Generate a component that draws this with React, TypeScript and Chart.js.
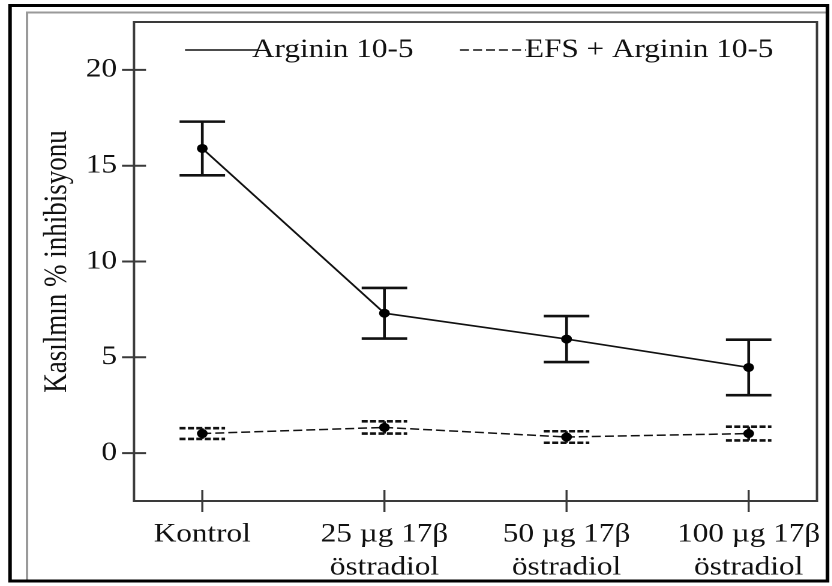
import React, { useEffect, useRef } from 'react';
import { Chart, registerables } from 'chart.js';

Chart.register(...registerables);

// ---- data ----
const categories: string[][] = [
  ['Kontrol'],
  ['25 µg 17β', 'östradiol'],
  ['50 µg 17β', 'östradiol'],
  ['100 µg 17β', 'östradiol'],
];
const xPositions = [0, 1, 2, 3];
const yTickValues = [0, 5, 10, 15, 20];
const seriesLabels = ['Arginin 10-5', 'EFS + Arginin 10-5'];
const argininMean = [15.9, 7.3, 5.95, 4.47];
const argininErr = [1.4, 1.32, 1.2, 1.45];
const efsMean = [1.02, 1.34, 0.84, 1.02];
const efsErr = [0.28, 0.32, 0.3, 0.36];
const yTitle = 'Kasılmın % inhibisyonu';

// ---- layout (reference pixels) ----
const SX = 1.2; // the reference is stretched horizontally
const PAGE_W = 832;
const PAGE_H = 586;
const CW = PAGE_W / SX;
const PLOT = { left: 134, right: 817, top: 22, bottom: 501 };
const X = (rx: number) => rx / SX;
const FONT = "'Liberation Serif', 'Times New Roman', serif";
const CAP = 0.125;
const INK = '#111';
const AXIS = '#3a3a3a';

const decor = {
  id: 'decor',
  beforeDraw(chart: any) {
    const ctx = chart.ctx;
    ctx.save();
    ctx.fillStyle = '#fff';
    ctx.fillRect(0, 0, chart.width, chart.height);
    ctx.strokeStyle = '#9a9a9a';
    ctx.lineWidth = 2;
    ctx.beginPath();
    ctx.moveTo(X(27), 580);
    ctx.lineTo(X(27), 12.5);
    ctx.lineTo(X(827), 12.5);
    ctx.stroke();
    ctx.strokeStyle = '#000';
    ctx.lineWidth = 3;
    ctx.strokeRect(X(10), 5.5, X(827.5) - X(10), 581 - 5.5);
    ctx.restore();
  },
  beforeDatasetsDraw(chart: any) {
    const { ctx, scales } = chart;
    const xs = scales.x;
    const ys = scales.y;
    const drawErr = (means: number[], errs: number[], dashed: boolean) => {
      means.forEach((m, i) => {
        const x = xs.getPixelForValue(xPositions[i]);
        const hw = xs.getPixelForValue(xPositions[i] + CAP) - x;
        const yt = ys.getPixelForValue(m + errs[i]);
        const yb = ys.getPixelForValue(m - errs[i]);
        ctx.save();
        ctx.strokeStyle = INK;
        ctx.setLineDash(dashed ? [5, 2] : []);
        ctx.lineWidth = 2.6;
        ctx.beginPath();
        ctx.moveTo(x - hw, yt);
        ctx.lineTo(x + hw, yt);
        ctx.moveTo(x - hw, yb);
        ctx.lineTo(x + hw, yb);
        ctx.stroke();
        ctx.setLineDash([]);
        ctx.lineWidth = 2.3;
        ctx.beginPath();
        ctx.moveTo(x, yt);
        ctx.lineTo(x, yb);
        ctx.stroke();
        ctx.restore();
      });
    };
    drawErr(argininMean, argininErr, false);
    drawErr(efsMean, efsErr, true);
  },
  afterDraw(chart: any) {
    const { ctx, chartArea: a, scales } = chart;
    const xs = scales.x;
    const ys = scales.y;
    ctx.save();
    ctx.strokeStyle = AXIS;
    ctx.lineWidth = 2;
    ctx.strokeRect(a.left, a.top, a.right - a.left, a.bottom - a.top);
    // y ticks crossing the axis
    yTickValues.forEach((v) => {
      const y = ys.getPixelForValue(v);
      ctx.beginPath();
      ctx.moveTo(a.left - X(12), y);
      ctx.lineTo(a.left + X(12), y);
      ctx.stroke();
    });
    // x ticks crossing the axis
    ctx.lineWidth = 1.7;
    xPositions.forEach((v) => {
      const x = xs.getPixelForValue(v);
      ctx.beginPath();
      ctx.moveTo(x, a.bottom - 11);
      ctx.lineTo(x, a.bottom + 11);
      ctx.stroke();
    });
    // legend
    const ly = 50;
    ctx.font = `26px ${FONT}`;
    ctx.fillStyle = INK;
    ctx.textBaseline = 'middle';
    ctx.textAlign = 'left';
    ctx.strokeStyle = INK;
    ctx.lineWidth = 1.6;
    ctx.beginPath();
    ctx.moveTo(X(185), ly);
    ctx.lineTo(X(258), ly);
    ctx.stroke();
    ctx.fillText(seriesLabels[0], X(252), ly);
    ctx.setLineDash([X(9), X(4)]);
    ctx.beginPath();
    ctx.moveTo(X(460), ly);
    ctx.lineTo(X(526), ly);
    ctx.stroke();
    ctx.setLineDash([]);
    ctx.fillText(seriesLabels[1], X(525), ly);
    ctx.restore();
  },
};

export default function App() {
  const ref = useRef<HTMLCanvasElement>(null);
  useEffect(() => {
    const canvas = ref.current;
    if (!canvas) return;
    const chart = new Chart(canvas, {
      type: 'line',
      data: {
        datasets: [
          {
            label: seriesLabels[0],
            data: argininMean.map((v, i) => ({ x: xPositions[i], y: v })),
            borderColor: INK,
            backgroundColor: '#000',
            borderWidth: 1.7,
            pointRadius: 4.5,
            pointBackgroundColor: '#000',
            pointBorderColor: '#000',
            pointBorderWidth: 0,
            tension: 0,
          },
          {
            label: seriesLabels[1],
            data: efsMean.map((v, i) => ({ x: xPositions[i], y: v })),
            borderColor: INK,
            backgroundColor: '#000',
            borderWidth: 1.5,
            borderDash: [X(9), X(4)],
            pointRadius: 4.5,
            pointBackgroundColor: '#000',
            pointBorderColor: '#000',
            pointBorderWidth: 0,
            tension: 0,
          },
        ],
      },
      options: {
        animation: false,
        responsive: true,
        maintainAspectRatio: false,
        devicePixelRatio: 2,
        layout: {
          padding: { left: 0, top: PLOT.top, right: CW - X(PLOT.right), bottom: 0 },
        },
        plugins: {
          legend: { display: false },
          tooltip: { enabled: false },
        },
        scales: {
          x: {
            type: 'linear',
            min: -0.375,
            max: 3.375,
            grid: { display: false, drawTicks: false },
            border: { display: false },
            afterBuildTicks: (s: any) => {
              s.ticks = xPositions.map((v) => ({ value: v }));
            },
            afterFit: (s: any) => {
              s.height = PAGE_H - PLOT.bottom;
              s.paddingLeft = 0;
              s.paddingRight = 0;
            },
            ticks: {
              autoSkip: false,
              maxRotation: 0,
              minRotation: 0,
              padding: 17,
              color: INK,
              font: { family: FONT, size: 26, lineHeight: 1.28 },
              callback: (v: any) => {
                const i = xPositions.indexOf(Number(v));
                return i >= 0 ? categories[i] : '';
              },
            },
          },
          y: {
            type: 'linear',
            min: -2.5,
            max: 22.5,
            grid: { display: false, drawTicks: false },
            border: { display: false },
            afterBuildTicks: (s: any) => {
              s.ticks = yTickValues.map((v) => ({ value: v }));
            },
            afterFit: (s: any) => {
              s.width = X(PLOT.left);
              s.paddingTop = 0;
              s.paddingBottom = 0;
            },
            ticks: {
              padding: X(134 - 117),
              color: INK,
              font: { family: FONT, size: 26 },
            },
            title: {
              display: true,
              text: yTitle,
              color: INK,
              font: { family: FONT, size: 27, lineHeight: 1.2 },
              padding: { top: X(57.5) - 16.2, bottom: 0 },
            },
          },
        },
      },
      plugins: [decor],
    } as any);
    return () => chart.destroy();
  }, []);
  return (
    <div
      style={{
        position: 'fixed',
        left: 0,
        top: 0,
        width: PAGE_W,
        height: PAGE_H,
        overflow: 'hidden',
        background: '#fff',
      }}
    >
      <div
        style={{
          position: 'absolute',
          left: 0,
          top: 0,
          width: CW,
          height: PAGE_H,
          transform: `scaleX(${SX})`,
          transformOrigin: '0 0',
        }}
      >
        <canvas ref={ref} />
      </div>
    </div>
  );
}
